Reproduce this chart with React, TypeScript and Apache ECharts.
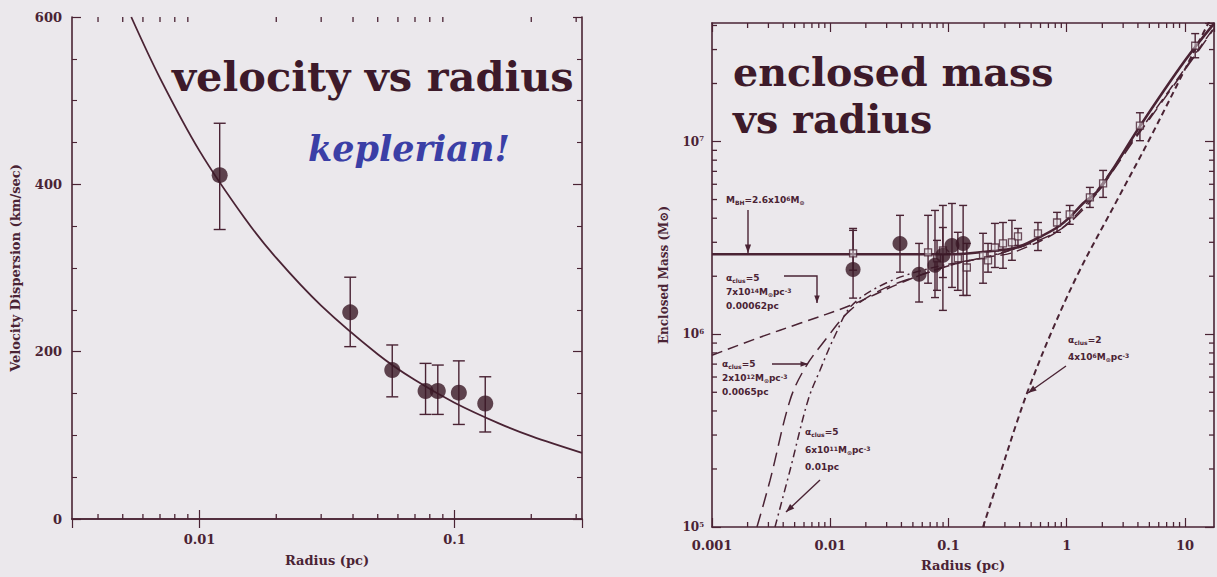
import React, { useEffect, useRef } from 'react';
import * as echarts from 'echarts';

const INK = '#4a2334';
const DOT = '#3a1826';
const TITLE_INK = '#3d1a2a';
const BG = '#ebe8ec';
const BLUE = '#3b3fa6';

// ---------- left panel: velocity dispersion vs radius ----------
const velRadius = [0.012, 0.039, 0.057, 0.077, 0.086, 0.104, 0.132];
const velValue = [411, 247, 178, 153, 153, 151, 138];
const velLow = [346, 206, 146, 125, 125, 113, 104];
const velHigh = [473, 289, 208, 186, 184, 189, 170];
const keplerRadius = [0.0054, 0.007, 0.01, 0.015, 0.02, 0.03, 0.05, 0.07, 0.1, 0.15, 0.2, 0.316];
const keplerVel = [600, 527, 440, 360, 312, 255, 197, 166, 139, 114, 99, 79];
const leftXDecades = [-2, -1];
const leftXTickLabels = ['0.01', '0.1'];
const leftMinorX = [0.004, 0.005, 0.006, 0.007, 0.008, 0.009, 0.02, 0.03, 0.04, 0.05, 0.06, 0.07, 0.08, 0.09, 0.2, 0.3];

// ---------- right panel: enclosed mass vs radius ----------
const massFilledR = [0.0156, 0.0389, 0.0564, 0.0769, 0.0897, 0.107, 0.133];
const massFilledM = [2.17e6, 2.96e6, 2.05e6, 2.28e6, 2.57e6, 2.89e6, 2.96e6];
const massFilledLow = [1.54e6, 2.1e6, 1.47e6, 1.55e6, 1.33e6, 1.75e6, 1.59e6];
const massFilledHigh = [3.46e6, 4.14e6, 2.96e6, 4.39e6, 4.66e6, 4.77e6, 4.66e6];

const massOpenR = [0.0156, 0.0672, 0.08, 0.0897, 0.12, 0.143, 0.196, 0.216, 0.247, 0.289, 0.344, 0.387, 0.571, 0.828, 1.06, 1.57, 2.03, 4.16, 12.2];
const massOpenM = [2.63e6, 2.66e6, 2.48e6, 2.72e6, 2.48e6, 2.22e6, 2.57e6, 2.42e6, 2.82e6, 2.96e6, 3.0e6, 3.22e6, 3.34e6, 3.8e6, 4.19e6, 5.13e6, 6.06e6, 1.21e7, 3.14e7];
const massOpenLow = [2.15e6, 1.84e6, 1.69e6, 1.97e6, 1.69e6, 1.59e6, 1.84e6, 2.1e6, 2.22e6, 2.2e6, 2.42e6, 2.89e6, 2.72e6, 3.38e6, 3.72e6, 4.55e6, 5.13e6, 1.01e7, 2.72e7];
const massOpenHigh = [3.54e6, 4.14e6, 3.07e6, 3.58e6, 3.38e6, 2.96e6, 3.34e6, 2.96e6, 3.76e6, 3.8e6, 3.9e6, 3.54e6, 3.8e6, 4.29e6, 4.66e6, 5.78e6, 7.08e6, 1.41e7, 3.63e7];

const totalR = [0.001, 0.01, 0.05, 0.103, 0.152, 0.257, 0.379, 0.56, 0.828, 1.06, 1.37, 1.91, 4.16, 10, 17.6];
const totalM = [2.6e6, 2.6e6, 2.6e6, 2.6e6, 2.63e6, 2.72e6, 2.82e6, 3.14e6, 3.58e6, 4.04e6, 4.77e6, 5.71e6, 1.2e7, 2.63e7, 4.09e7];

const model1R = [0.001, 0.00255, 0.00555, 0.0147, 0.0389, 0.0847, 0.185, 0.379, 1.06, 4.16, 17.6];
const model1M = [7.78e5, 9.65e5, 1.14e6, 1.41e6, 1.84e6, 2.2e6, 2.48e6, 2.7e6, 3.85e6, 1.14e7, 3.9e7];
const model2R = [0.0024, 0.0031, 0.00457, 0.0061, 0.00903, 0.0147, 0.0264, 0.0574, 0.125, 0.273, 1.06, 4.16, 17.6];
const model2M = [1e5, 1.75e5, 4.55e5, 6.67e5, 9.31e5, 1.33e6, 1.69e6, 2.02e6, 2.36e6, 2.62e6, 3.8e6, 1.12e7, 3.85e7];
const model3R = [0.00341, 0.00457, 0.00649, 0.00819, 0.011, 0.0152, 0.03, 0.07, 0.2, 0.5];
const model3M = [1e5, 1.97e5, 4.55e5, 6.51e5, 9.88e5, 1.41e6, 1.85e6, 2.2e6, 2.5e6, 2.95e6];
const model4R = [0.196, 0.273, 0.379, 0.489, 0.765, 1.29, 2.66, 5.06, 12.6, 17.6];
const model4M = [1e5, 1.88e5, 3.5e5, 5.44e5, 1.07e6, 2.15e6, 4.95e6, 1.04e7, 3.14e7, 4.7e7];

const rightXDecades = [-3, -2, -1, 0, 1];
const rightXTickLabels = ['0.001', '0.01', '0.1', '1', '10'];
const rightYDecades = [5, 6, 7];
const rightMinorX = [0.002, 0.003, 0.004, 0.005, 0.006, 0.007, 0.008, 0.009, 0.02, 0.03, 0.04, 0.05, 0.06, 0.07, 0.08, 0.09, 0.2, 0.3, 0.4, 0.5, 0.6, 0.7, 0.8, 0.9, 2, 3, 4, 5, 6, 7, 8, 9];
const rightMinorY = [2e5, 3e5, 4e5, 5e5, 6e5, 7e5, 8e5, 9e5, 2e6, 3e6, 4e6, 5e6, 6e6, 7e6, 8e6, 9e6, 2e7, 3e7, 4e7];

const pairs = (xs: number[], ys: number[]) => xs.map((x, i) => [x, ys[i]]);

const decadeFormatter = (decades: number[], labels: string[]) => (v: number) => {
  const l = Math.log10(v);
  const e = Math.round(l);
  if (Math.abs(l - e) > 1e-6) return '';
  const i = decades.indexOf(e);
  return i >= 0 ? labels[i] : '';
};

const labelFont = { color: INK, fontFamily: 'DejaVu Serif', fontWeight: 'bold' as const, fontSize: 13 };
const axisLine = { show: true, lineStyle: { color: INK, width: 1.6 } };
const majorTick = { show: true, inside: true, length: 9, lineStyle: { color: INK, width: 1.2 } };

// side: 'bottom' | 'top' | 'left' | 'right'
function minorTickSeries(xi: number, yi: number, values: number[], side: string, ref: number) {
  const horizontal = side === 'bottom' || side === 'top';
  return {
    type: 'custom',
    xAxisIndex: xi,
    yAxisIndex: yi,
    silent: true,
    clip: false,
    z: 10,
    data: values.map((v) => (horizontal ? [v, ref] : [ref, v])),
    renderItem: (params: any, api: any) => {
      const cs = params.coordSys;
      const p = api.coord([api.value(0), api.value(1)]);
      const st = { stroke: INK, lineWidth: 1.3 };
      const L = 5;
      let shape;
      if (side === 'bottom') shape = { x1: p[0], y1: cs.y + cs.height, x2: p[0], y2: cs.y + cs.height - L };
      else if (side === 'top') shape = { x1: p[0], y1: cs.y, x2: p[0], y2: cs.y + L };
      else if (side === 'left') shape = { x1: cs.x, y1: p[1], x2: cs.x + L, y2: p[1] };
      else shape = { x1: cs.x + cs.width, y1: p[1], x2: cs.x + cs.width - L, y2: p[1] };
      return { type: 'line', shape, style: st };
    },
  };
}

function errorBarSeries(xi: number, yi: number, r: number[], lo: number[], hi: number[], cap: number) {
  return {
    type: 'custom',
    xAxisIndex: xi,
    yAxisIndex: yi,
    silent: true,
    z: 3,
    data: r.map((v, i) => [v, lo[i], hi[i]]),
    encode: { x: 0, y: [1, 2] },
    renderItem: (_p: any, api: any) => {
      const a = api.coord([api.value(0), api.value(1)]);
      const b = api.coord([api.value(0), api.value(2)]);
      const st = { stroke: INK, lineWidth: 1.4 };
      return {
        type: 'group',
        children: [
          { type: 'line', shape: { x1: a[0], y1: a[1], x2: b[0], y2: b[1] }, style: st },
          { type: 'line', shape: { x1: a[0] - cap, y1: a[1], x2: a[0] + cap, y2: a[1] }, style: st },
          { type: 'line', shape: { x1: b[0] - cap, y1: b[1], x2: b[0] + cap, y2: b[1] }, style: st },
        ],
      };
    },
  };
}

function lineSeries(xi: number, yi: number, xs: number[], ys: number[], width: number, type: any) {
  return {
    type: 'line',
    xAxisIndex: xi,
    yAxisIndex: yi,
    data: pairs(xs, ys),
    showSymbol: false,
    smooth: 0.35,
    silent: true,
    z: 2,
    lineStyle: { color: INK, width, type },
  };
}

function arrow(points: number[][], head: number) {
  const n = points.length;
  const [x1, y1] = points[n - 2];
  const [x2, y2] = points[n - 1];
  const ang = Math.atan2(y2 - y1, x2 - x1);
  const hx1 = x2 - head * Math.cos(ang - 0.35);
  const hy1 = y2 - head * Math.sin(ang - 0.35);
  const hx2 = x2 - head * Math.cos(ang + 0.35);
  const hy2 = y2 - head * Math.sin(ang + 0.35);
  return [
    { type: 'polyline', shape: { points }, style: { stroke: INK, lineWidth: 1.4, fill: 'none' }, z: 50 },
    { type: 'polygon', shape: { points: [[x2, y2], [hx1, hy1], [hx2, hy2]] }, style: { fill: INK }, z: 50 },
  ];
}

const annRich = {
  n: { fontSize: 9, fontWeight: 'bold', fontFamily: 'DejaVu Sans', fill: INK, color: INK },
  s: { fontSize: 6, fontWeight: 'bold', fontFamily: 'DejaVu Sans', fill: INK, color: INK, verticalAlign: 'bottom', padding: [4, 0, 0, 0] },
  p: { fontSize: 6, fontWeight: 'bold', fontFamily: 'DejaVu Sans', fill: INK, color: INK, verticalAlign: 'top', padding: [0, 0, 4, 0] },
};

function ann(x: number, y: number, text: string) {
  return {
    type: 'text',
    x,
    y,
    z: 50,
    style: { text, rich: annRich, fill: INK, verticalAlign: 'middle', align: 'left', fontSize: 9, fontWeight: 'bold', fontFamily: 'DejaVu Sans' },
  };
}

function buildOption() {
  const leftLabel = decadeFormatter(leftXDecades, leftXTickLabels);
  const rightLabel = decadeFormatter(rightXDecades, rightXTickLabels);
  const rightYLabel = (v: number) => {
    const l = Math.log10(v);
    const e = Math.round(l);
    if (Math.abs(l - e) > 1e-6 || rightYDecades.indexOf(e) < 0) return '';
    return `{b|10}{s|${e}}`;
  };

  return {
    animation: false,
    backgroundColor: BG,
    grid: [
      { left: 72, top: 17, width: 510, height: 502 },
      { left: 712, top: 23, width: 502, height: 504 },
    ],
    xAxis: [
      {
        type: 'log', gridIndex: 0, position: 'bottom', min: Math.pow(10, -2.5), max: Math.pow(10, -0.5),
        axisLine, axisTick: majorTick, splitLine: { show: false },
        axisLabel: { ...labelFont, margin: 14, formatter: leftLabel, showMinLabel: false, showMaxLabel: false },
        name: 'Radius (pc)', nameLocation: 'middle', nameGap: 35,
        nameTextStyle: { ...labelFont, fontSize: 13 },
      },
      {
        type: 'log', gridIndex: 0, position: 'top', min: Math.pow(10, -2.5), max: Math.pow(10, -0.5),
        axisLine, axisTick: majorTick, splitLine: { show: false }, axisLabel: { show: false },
      },
      {
        type: 'log', gridIndex: 1, position: 'bottom', min: 0.001, max: 17.6,
        axisLine, axisTick: majorTick, splitLine: { show: false },
        axisLabel: { ...labelFont, margin: 12, formatter: rightLabel, showMaxLabel: false },
        name: 'Radius (pc)', nameLocation: 'middle', nameGap: 32,
        nameTextStyle: { ...labelFont, fontSize: 13 },
      },
      {
        type: 'log', gridIndex: 1, position: 'top', min: 0.001, max: 17.6,
        axisLine, axisTick: majorTick, splitLine: { show: false }, axisLabel: { show: false },
      },
    ],
    yAxis: [
      {
        type: 'value', gridIndex: 0, position: 'left', min: 0, max: 600, interval: 200,
        axisLine, axisTick: majorTick, splitLine: { show: false },
        minorTick: { show: true, splitNumber: 4, length: 5, lineStyle: { color: INK, width: 1.1 } },
        axisLabel: { ...labelFont, margin: 10 },
        name: 'Velocity Dispersion (km/sec)', nameLocation: 'middle', nameGap: 50,
        nameTextStyle: { ...labelFont, fontSize: 13 },
      },
      {
        type: 'value', gridIndex: 0, position: 'right', min: 0, max: 600, interval: 200,
        axisLine, axisTick: majorTick, splitLine: { show: false },
        minorTick: { show: true, splitNumber: 4, length: 5, lineStyle: { color: INK, width: 1.1 } },
        axisLabel: { show: false },
      },
      {
        type: 'log', gridIndex: 1, position: 'left', min: 1e5, max: 4.12e7,
        axisLine, axisTick: majorTick, splitLine: { show: false },
        axisLabel: {
          ...labelFont, margin: 8, formatter: rightYLabel, showMaxLabel: false,
          rich: {
            b: { ...labelFont, fontSize: 12 },
            s: { ...labelFont, fontSize: 7, verticalAlign: 'top', padding: [0, 0, 6, 0] },
          },
        },
        name: 'Enclosed Mass (M⊙)', nameLocation: 'middle', nameGap: 42,
        nameTextStyle: { ...labelFont, fontSize: 12 },
      },
      {
        type: 'log', gridIndex: 1, position: 'right', min: 1e5, max: 4.12e7,
        axisLine, axisTick: majorTick, splitLine: { show: false }, axisLabel: { show: false },
      },
    ],
    series: [
      // left panel
      lineSeries(0, 0, keplerRadius, keplerVel, 1.8, 'solid'),
      errorBarSeries(0, 0, velRadius, velLow, velHigh, 6),
      {
        type: 'scatter', xAxisIndex: 0, yAxisIndex: 0, silent: true, z: 5,
        data: pairs(velRadius, velValue), symbol: 'circle', symbolSize: 16,
        itemStyle: { color: DOT },
      },
      minorTickSeries(0, 0, leftMinorX, 'bottom', 300),
      minorTickSeries(0, 0, leftMinorX, 'top', 300),

      // right panel
      lineSeries(2, 2, model1R, model1M, 1.5, [11, 6]),
      lineSeries(2, 2, model2R, model2M, 1.5, [14, 7]),
      lineSeries(2, 2, model3R, model3M, 1.5, [8, 4, 2, 4]),
      lineSeries(2, 2, model4R, model4M, 2, [6, 4]),
      lineSeries(2, 2, totalR, totalM, 2.6, 'solid'),
      errorBarSeries(2, 2, massOpenR, massOpenLow, massOpenHigh, 4),
      errorBarSeries(2, 2, massFilledR, massFilledLow, massFilledHigh, 4),
      {
        type: 'scatter', xAxisIndex: 2, yAxisIndex: 2, silent: true, z: 5,
        data: pairs(massOpenR, massOpenM), symbol: 'rect', symbolSize: 7,
        itemStyle: { color: 'rgba(235,232,236,0.6)', borderColor: INK, borderWidth: 1.3 },
      },
      {
        type: 'scatter', xAxisIndex: 2, yAxisIndex: 2, silent: true, z: 6,
        data: pairs(massFilledR, massFilledM), symbol: 'circle', symbolSize: 15,
        itemStyle: { color: DOT },
      },
      minorTickSeries(2, 2, rightMinorX, 'bottom', 1e6),
      minorTickSeries(2, 2, rightMinorX, 'top', 1e6),
      minorTickSeries(2, 2, rightMinorY, 'left', 0.01),
      minorTickSeries(2, 2, rightMinorY, 'right', 0.01),
    ],
    graphic: [
      {
        type: 'text', x: 172, y: 76, z: 60,
        style: { text: 'velocity vs radius', fontSize: 41.5, fontWeight: 'bold', fontFamily: 'DejaVu Serif', fill: TITLE_INK, verticalAlign: 'middle', align: 'left' },
      },
      {
        type: 'text', x: 308, y: 148, z: 60,
        style: { text: 'keplerian!', fontSize: 35, fontWeight: 'bold', fontStyle: 'italic', fontFamily: 'DejaVu Serif', fill: BLUE, verticalAlign: 'middle', align: 'left' },
      },
      {
        type: 'text', x: 733, y: 72, z: 60,
        style: { text: 'enclosed mass', fontSize: 39.6, fontWeight: 'bold', fontFamily: 'DejaVu Serif', fill: TITLE_INK, verticalAlign: 'middle', align: 'left' },
      },
      {
        type: 'text', x: 733, y: 119, z: 60,
        style: { text: 'vs radius', fontSize: 39.6, fontWeight: 'bold', fontFamily: 'DejaVu Serif', fill: TITLE_INK, verticalAlign: 'middle', align: 'left' },
      },
      ann(726, 200, '{n|M}{s|BH}{n|=2.6x10}{p|6}{n|M}{s|⊙}'),
      ...arrow([[748, 210], [748, 253]], 9),
      ann(726, 278, '{n|α}{s|clus}{n|=5}'),
      ann(726, 292, '{n|7x10}{p|14}{n|M}{s|⊙}{n|pc}{p|-3}'),
      ann(726, 306, '{n|0.00062pc}'),
      ...arrow([[784, 276], [817, 276], [817, 303]], 8),
      ann(722, 364, '{n|α}{s|clus}{n|=5}'),
      ...arrow([[772, 364], [808, 364]], 8),
      ann(722, 378, '{n|2x10}{p|12}{n|M}{s|⊙}{n|pc}{p|-3}'),
      ann(722, 392, '{n|0.0065pc}'),
      ann(805, 432, '{n|α}{s|clus}{n|=5}'),
      ann(805, 450, '{n|6x10}{p|11}{n|M}{s|⊙}{n|pc}{p|-3}'),
      ann(805, 467, '{n|0.01pc}'),
      ...arrow([[820, 480], [786, 512]], 9),
      ann(1068, 340, '{n|α}{s|clus}{n|=2}'),
      ann(1068, 357, '{n|4x10}{p|6}{n|M}{s|⊙}{n|pc}{p|-3}'),
      ...arrow([[1066, 366], [1028, 393]], 9),
    ],
  };
}

export default function App() {
  const ref = useRef<HTMLDivElement>(null);
  useEffect(() => {
    document.body.style.margin = '0';
    const chart = echarts.init(ref.current as HTMLDivElement, null, { renderer: 'svg' });
    chart.setOption(buildOption() as any);
    return () => chart.dispose();
  }, []);
  return <div ref={ref} style={{ width: 1217, height: 577, position: 'absolute', left: 0, top: 0 }} />;
}
